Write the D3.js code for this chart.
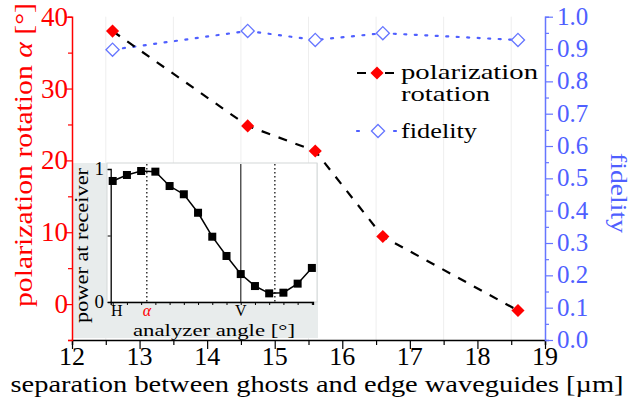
<!DOCTYPE html>
<html><head><meta charset="utf-8">
<script src="https://cdn.jsdelivr.net/npm/d3@7"></script>
<style>body{margin:0;background:#fff}svg{display:block}</style>
</head><body>
<script>
// ---- data ----
const separation = [12.6, 14.6, 15.6, 16.6, 18.6];
const rotation = [38.0, 24.8, 21.3, 9.4, -0.9];
const fidelity = [0.898, 0.956, 0.928, 0.949, 0.928];
const xTicks = [12, 13, 14, 15, 16, 17, 18, 19];
const leftTicks = [0, 10, 20, 30, 40];
const rightTicks = [0, 0.1, 0.2, 0.3, 0.4, 0.5, 0.6, 0.7, 0.8, 0.9, 1.0];
const insetAngles = [0, 10, 20, 30, 40, 50, 60, 70, 80, 90, 100, 110, 120, 130, 140];
const insetPower = [0.91, 0.955, 0.985, 0.98, 0.872, 0.81, 0.671, 0.491, 0.346, 0.21, 0.12, 0.065, 0.07, 0.138, 0.256];
const insetMarks = [{a: 0, t: "H", c: "#000"}, {a: 24, t: "α", c: "#ff0000"}, {a: 90, t: "V", c: "#000"}];
const alphaLines = [24, 114];
const legendItems = ["polarization", "rotation", "fidelity"];

const W = 634, H = 402;
const RED = "#ff0000", BLUE = "#4f5fff", BLUEAX = "#6676ff";
const FONT = "Liberation Serif";
const svg = d3.select("body").append("svg").attr("width", W).attr("height", H);

const x = d3.scaleLinear().domain([12, 19]).range([72, 545]);
const yL = d3.scaleLinear().domain([-5, 40]).range([340, 16.7]);
const yR = d3.scaleLinear().domain([0, 1]).range([340, 16.7]);

function txt(sel) { return sel.append("text").attr("font-family", FONT); }

// faint grid at half-integers
svg.append("g").selectAll("line").data(d3.range(12.5, 19, 1)).join("line")
  .attr("x1", d => x(d)).attr("x2", d => x(d)).attr("y1", 16.7).attr("y2", 340)
  .attr("stroke", "#eeeeee").attr("stroke-width", 1);

// ---- inset ----
const ix = d3.scaleLinear().domain([-1.4, 140.8]).range([110.7, 313]);
const iy = d3.scaleLinear().domain([0, 1]).range([302, 169]);
const inset = svg.append("g");
inset.append("rect").attr("x", 73).attr("y", 163).attr("width", 245).attr("height", 175).attr("fill", "#e8ecec");
inset.append("rect").attr("x", 107).attr("y", 163).attr("width", 210).attr("height", 139)
  .attr("fill", "#fff").attr("stroke", "#d4d8d8").attr("stroke-width", 1);
inset.append("line").attr("x1", ix(90)).attr("x2", ix(90)).attr("y1", 164).attr("y2", 302)
  .attr("stroke", "#555").attr("stroke-width", 1.5);
inset.selectAll("line.al").data(alphaLines).join("line").attr("class", "al")
  .attr("x1", d => ix(d)).attr("x2", d => ix(d)).attr("y1", 164).attr("y2", 302)
  .attr("stroke", "#000").attr("stroke-width", 1.2).attr("stroke-dasharray", "1.5,2.5");
inset.append("g").attr("transform", "translate(0,302)")
  .call(d3.axisBottom(ix).tickValues(insetAngles).tickSize(3).tickFormat(""))
  .call(g => g.select(".domain").attr("stroke", "#000").attr("stroke-width", 1.3))
  .call(g => g.selectAll(".tick line").attr("stroke", "#000"));
inset.append("g").attr("transform", "translate(110.7,0)")
  .call(d3.axisLeft(iy).tickValues([0, 0.5, 1]).tickSize(3).tickFormat(""))
  .call(g => g.select(".domain").attr("stroke", "#000").attr("stroke-width", 1.3))
  .call(g => g.selectAll(".tick line").attr("stroke", "#000"));
inset.selectAll("text.iy").data([0, 1]).join("text").attr("class", "iy").attr("font-family", FONT)
  .attr("x", 104).attr("y", d => iy(d) + 6).attr("text-anchor", "end")
  .attr("font-size", 19).text(d => d);
inset.selectAll("text.im").data(insetMarks).join("text").attr("class", "im").attr("font-family", FONT)
  .attr("x", d => ix(d.a) + (d.a === 0 ? 4 : 0)).attr("y", 316).attr("text-anchor", "middle")
  .attr("font-size", 16).attr("fill", d => d.c)
  .attr("font-style", d => d.t === "α" ? "italic" : "normal").text(d => d.t);
txt(inset).attr("x", 214).attr("y", 335.5).attr("text-anchor", "middle")
  .attr("font-size", 17).attr("textLength", 162).attr("lengthAdjust", "spacingAndGlyphs")
  .text("analyzer angle [°]");
txt(inset).attr("transform", "translate(88,245.5) rotate(-90)").attr("text-anchor", "middle")
  .attr("font-size", 19).attr("textLength", 155).attr("lengthAdjust", "spacingAndGlyphs")
  .text("power at receiver");
inset.append("path").datum(insetAngles.map((a, i) => [a, insetPower[i]]))
  .attr("d", d3.line().x(d => ix(d[0])).y(d => iy(d[1])))
  .attr("fill", "none").attr("stroke", "#000").attr("stroke-width", 1.5);
inset.selectAll("rect.sq").data(insetAngles.map((a, i) => [a, insetPower[i]])).join("rect").attr("class", "sq")
  .attr("x", d => ix(d[0]) - 4).attr("y", d => iy(d[1]) - 4).attr("width", 8).attr("height", 8).attr("fill", "#000");

// ---- main axes ----
const gx = svg.append("g").attr("transform", "translate(0,340)");
gx.call(d3.axisBottom(x).tickValues(d3.range(12, 19.01, 0.5)).tickSize(5).tickFormat(""))
  .call(g => g.select(".domain").attr("stroke", "#000").attr("stroke-width", 1.5))
  .call(g => g.selectAll(".tick line").attr("stroke", "#000").attr("stroke-width", 1.2)
    .attr("y2", d => Number.isInteger(d) ? 9 : 5));
svg.selectAll("text.xt").data(xTicks).join("text").attr("class", "xt").attr("font-family", FONT)
  .attr("x", d => x(d)).attr("y", 365).attr("text-anchor", "middle").attr("font-size", 26).text(d => d);
txt(svg).attr("x", 317).attr("y", 392).attr("text-anchor", "middle")
  .attr("font-size", 24).attr("textLength", 613).attr("lengthAdjust", "spacingAndGlyphs")
  .text("separation between ghosts and edge waveguides [µm]");

svg.append("g").attr("transform", "translate(72,0)")
  .call(d3.axisLeft(yL).tickValues(d3.range(-5, 40.01, 5)).tickSize(4).tickFormat(""))
  .call(g => g.select(".domain").attr("stroke", RED).attr("stroke-width", 1.5))
  .call(g => g.selectAll(".tick line").attr("stroke", RED).attr("stroke-width", 1.2)
    .attr("x2", d => d % 10 === 0 ? -7 : -4));
svg.selectAll("text.yl").data(leftTicks).join("text").attr("class", "yl").attr("font-family", FONT)
  .attr("x", 68).attr("y", d => yL(d) + 9).attr("text-anchor", "end")
  .attr("font-size", 27).attr("fill", RED).text(d => d);
txt(svg).attr("transform", "translate(32,155) rotate(-90)").attr("text-anchor", "middle")
  .attr("font-size", 26).attr("fill", RED).attr("textLength", 304).attr("lengthAdjust", "spacingAndGlyphs")
  .html('polarization rotation <tspan font-style="italic">α</tspan> [°]');

svg.append("g").attr("transform", "translate(545,0)")
  .call(d3.axisRight(yR).tickValues(d3.range(0, 1.001, 0.05)).tickSize(4).tickFormat(""))
  .call(g => g.select(".domain").attr("stroke", BLUEAX).attr("stroke-width", 1.5))
  .call(g => g.selectAll(".tick line").attr("stroke", BLUEAX).attr("stroke-width", 1.2)
    .attr("x2", (d, i) => i % 2 === 0 ? 8 : 4));
svg.selectAll("text.yr").data(rightTicks).join("text").attr("class", "yr").attr("font-family", FONT)
  .attr("x", 557).attr("y", d => yR(d) + 8).attr("text-anchor", "start")
  .attr("font-size", 25).attr("fill", BLUE).text(d => d.toFixed(1));
txt(svg).attr("transform", "translate(611,193) rotate(90)").attr("text-anchor", "middle")
  .attr("font-size", 24).attr("fill", BLUE).attr("textLength", 80).attr("lengthAdjust", "spacingAndGlyphs")
  .text("fidelity");

// ---- series ----
const diamond = d3.symbol().type(d3.symbolDiamond2).size(110);
svg.append("path").datum(separation.map((s, i) => [s, fidelity[i]]))
  .attr("d", d3.line().x(d => x(d[0])).y(d => yR(d[1])))
  .attr("fill", "none").attr("stroke", BLUE).attr("stroke-width", 2.2).attr("stroke-dasharray", "2,8.5")
  .attr("stroke-linecap", "round");
svg.append("path").datum(separation.map((s, i) => [s, rotation[i]]))
  .attr("d", d3.line().x(d => x(d[0])).y(d => yL(d[1])))
  .attr("fill", "none").attr("stroke", "#000").attr("stroke-width", 2.2).attr("stroke-dasharray", "9,9");
svg.selectAll("path.fd").data(separation.map((s, i) => [s, fidelity[i]])).join("path").attr("class", "fd")
  .attr("transform", d => `translate(${x(d[0])},${yR(d[1])})`).attr("d", diamond)
  .attr("fill", "#fff").attr("stroke", BLUEAX).attr("stroke-width", 1.3);
svg.selectAll("path.rd").data(separation.map((s, i) => [s, rotation[i]])).join("path").attr("class", "rd")
  .attr("transform", d => `translate(${x(d[0])},${yL(d[1])})`).attr("d", diamond)
  .attr("fill", RED);

// ---- legend ----
const lg = svg.append("g");
lg.append("line").attr("x1", 357).attr("x2", 394).attr("y1", 73).attr("y2", 73)
  .attr("stroke", "#000").attr("stroke-width", 2.2).attr("stroke-dasharray", "9,19");
lg.append("path").attr("transform", "translate(377,73)").attr("d", diamond).attr("fill", RED);
lg.append("line").attr("x1", 357).attr("x2", 397).attr("y1", 131).attr("y2", 131)
  .attr("stroke", BLUE).attr("stroke-width", 2.2).attr("stroke-dasharray", "2,35").attr("stroke-linecap", "round");
lg.append("path").attr("transform", "translate(378,131)").attr("d", diamond)
  .attr("fill", "#fff").attr("stroke", BLUEAX).attr("stroke-width", 1.3);
txt(lg).attr("x", 401).attr("y", 78.5).attr("font-size", 21)
  .attr("textLength", 137).attr("lengthAdjust", "spacingAndGlyphs").text(legendItems[0]);
txt(lg).attr("x", 401).attr("y", 101).attr("font-size", 21)
  .attr("textLength", 89).attr("lengthAdjust", "spacingAndGlyphs").text(legendItems[1]);
txt(lg).attr("x", 401).attr("y", 137.5).attr("font-size", 21)
  .attr("textLength", 76).attr("lengthAdjust", "spacingAndGlyphs").text(legendItems[2]);
</script>
</body></html>
